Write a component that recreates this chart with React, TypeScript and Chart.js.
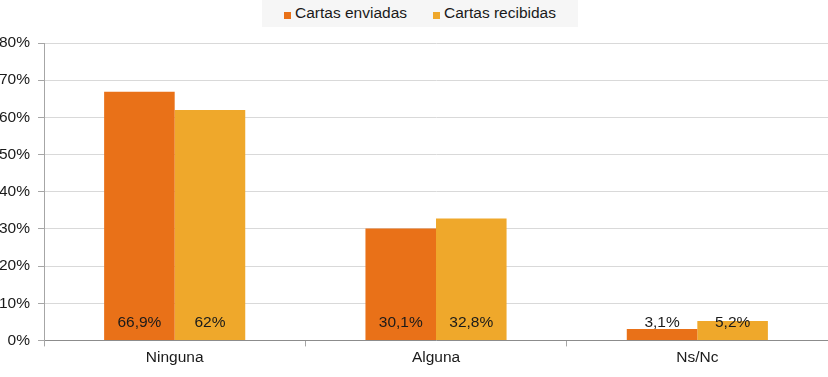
import React, { useEffect, useRef } from "react";
import { Chart, registerables } from "chart.js";

Chart.register(...registerables);

const categories = ["Ninguna", "Alguna", "Ns/Nc"];
const enviadas = [66.9, 30.1, 3.1];
const recibidas = [62, 32.8, 5.2];
const seriesNames = ["Cartas enviadas", "Cartas recibidas"];
const seriesColors = ["#E97118", "#EFA82B"];
const yTicks = [0, 10, 20, 30, 40, 50, 60, 70, 80];

const FONT = "'Liberation Sans', Arial, sans-serif";
const FS = 15.5;
const TEXT = "#1a1a1a";

const fmt = (v: number) => String(v).replace(".", ",") + "%";

const barLabels = {
  id: "barLabels",
  afterDatasetsDraw(chart: any) {
    const ctx = chart.ctx;
    const yScale = chart.scales.y;
    const base = yScale.getPixelForValue(0);
    ctx.save();
    ctx.font = `${FS}px ${FONT}`;
    ctx.fillStyle = TEXT;
    ctx.textAlign = "center";
    ctx.textBaseline = "middle";
    chart.data.datasets.forEach((ds: any, i: number) => {
      const meta = chart.getDatasetMeta(i);
      meta.data.forEach((el: any, j: number) => {
        ctx.fillText(fmt(ds.data[j]), el.x, base - 18);
      });
    });
    ctx.restore();
  },
};

export default function App() {
  const ref = useRef<HTMLCanvasElement | null>(null);
  useEffect(() => {
    document.body.style.margin = "0";
    const chart = new Chart(ref.current!, {
      type: "bar",
      data: {
        labels: categories,
        datasets: [
          { label: seriesNames[0], data: enviadas, backgroundColor: seriesColors[0] },
          { label: seriesNames[1], data: recibidas, backgroundColor: seriesColors[1] },
        ],
      },
      options: {
        responsive: false,
        animation: false,
        layout: { padding: { top: 43, right: 0, left: -9, bottom: 8 } },
        datasets: { bar: { categoryPercentage: 0.54, barPercentage: 1.0 } },
        plugins: {
          legend: { display: false },
          tooltip: { enabled: false },
        },
        scales: {
          x: {
            grid: {
              display: true,
              drawOnChartArea: false,
              drawTicks: true,
              tickLength: 6,
              offset: true,
              color: "#a6a6a6",
            },
            border: { color: "#8c8c8c" },
            ticks: { color: TEXT, font: { family: FONT, size: FS }, padding: 2 },
          },
          y: {
            min: 0,
            max: 80,
            afterBuildTicks(axis: any) {
              axis.ticks = yTicks.map((v) => ({ value: v }));
            },
            grid: { color: "#d9d9d9", tickLength: 6, tickColor: "#a6a6a6" },
            border: { color: "#a6a6a6" },
            ticks: {
              color: TEXT,
              font: { family: FONT, size: FS },
              padding: 8,
              callback: (v: any) => v + "%",
            },
          },
        },
      },
      plugins: [barLabels],
    });
    return () => chart.destroy();
  }, []);

  const itemStyle = (left: number): React.CSSProperties => ({
    position: "absolute",
    left,
    top: 4,
    height: 18,
    display: "flex",
    alignItems: "flex-start",
    whiteSpace: "nowrap",
  });

  return (
    <div style={{ position: "relative", width: 828, height: 377 }}>
      <canvas ref={ref} width={828} height={377} style={{ display: "block" }} />
      <div
        style={{
          position: "absolute",
          left: 262,
          top: 0,
          width: 316,
          height: 27,
          background: "#f6f6f6",
          fontFamily: FONT,
          fontSize: FS,
          color: TEXT,
          lineHeight: "18px",
        }}
      >
        {seriesNames.map((name, i) => (
          <div key={name} style={itemStyle(i === 0 ? 22 : 171)}>
            <span
              style={{
                display: "inline-block",
                width: 7,
                height: 7,
                marginTop: 8,
                marginRight: 4,
                background: seriesColors[i],
              }}
            />
            <span>{name}</span>
          </div>
        ))}
      </div>
    </div>
  );
}
